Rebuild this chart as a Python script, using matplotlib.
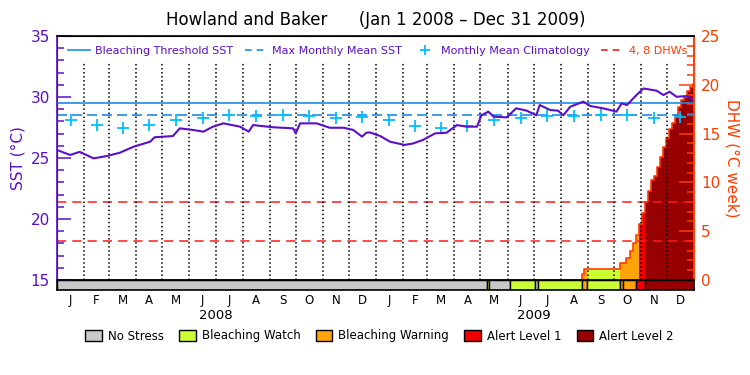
import numpy as np
import matplotlib.pyplot as plt
from matplotlib.patches import Patch
from matplotlib.lines import Line2D

PURPLE = '#5a0fc8'
ORANGE_RED = '#ff3c00'
BLUE = '#1e8ce6'
CYAN = '#00bfff'
RED = '#ff1a1a'
STRESS_COLORS = ['#c8c8c8', '#ccff33', '#ffa50a', '#f00000', '#960000']
STRESS_NAMES = ['No Stress', 'Bleaching Watch', 'Bleaching Warning', 'Alert Level 1', 'Alert Level 2']

# x = days since Jan 1 2008
sst_day = [0, 15, 26, 42, 57, 72, 88, 107, 112, 133, 141, 156, 168, 179, 191, 210, 220, 225,
           248, 271, 274, 279, 298, 313, 329, 340, 350, 355, 359, 371, 382, 399, 409, 420,
           434, 447, 459, 470, 482, 487, 495, 501, 516, 527, 539, 550, 554, 566, 575, 581,
           589, 604, 612, 627, 642, 648, 654, 665, 673, 688, 696, 703, 711, 723, 730]
sst = [25.66, 25.25, 25.5, 24.97, 25.16, 25.43, 25.93, 26.34, 26.7, 26.8, 27.43, 27.3, 27.16,
       27.57, 27.84, 27.57, 27.16, 27.7, 27.52, 27.43, 27.02, 27.84, 27.84, 27.48, 27.48, 27.3,
       26.75, 27.07, 27.1, 26.8, 26.34, 26.07, 26.2, 26.48, 27.02, 27.07, 27.7, 27.57, 27.57,
       28.5, 28.8, 28.39, 28.33, 29.07, 28.88, 28.5, 29.34, 28.93, 28.88, 28.5, 29.2, 29.62,
       29.26, 29.07, 28.8, 29.48, 29.34, 30.16, 30.7, 30.52, 30.16, 30.43, 30.02, 30.08, 29.75]

clim = [28.1, 27.7, 27.5, 27.7, 28.1, 28.3, 28.5, 28.45, 28.5, 28.45, 28.3, 28.35,
        28.1, 27.65, 27.5, 27.65, 28.1, 28.25, 28.45, 28.45, 28.5, 28.5, 28.3, 28.35]
threshold = 29.5
mmm = 28.5
dhw_lines = [4, 8]

dhw_day = [0, 602, 604.5, 608, 646, 653, 657.5, 661, 664.5, 667.5, 671.5, 675, 678.5, 682,
           685.5, 689, 692.5, 696, 699, 702.5, 706, 709.5, 713, 716.5, 720, 723, 727, 729.5, 731]
dhw = [0, 0.58, 1.16, 1.16, 1.7, 2.3, 3.0, 3.75, 4.6, 5.7, 6.9, 8.0, 9.1, 10.2, 10.7, 11.6,
       12.6, 13.6, 14.6, 15.5, 16.1, 16.9, 17.7, 18.4, 18.8, 19.4, 19.8, 20.1, 20.1]

stress_start = [0, 493, 496, 520, 549, 552, 602, 608, 646, 650, 665, 675]
stress_level = [0, 1, 0, 1, 0, 1, 2, 1, 2, 2, 3, 4]

months = np.arange('2008-01', '2010-02', dtype='datetime64[M]')
month_start = (months.astype('datetime64[D]') - np.datetime64('2008-01-01')).astype(int)
month_mid = (month_start[:-1] + month_start[1:]) / 2
month_letters = ['J', 'F', 'M', 'A', 'M', 'J', 'J', 'A', 'S', 'O', 'N', 'D'] * 2

fig = plt.figure(figsize=(7.5, 3.75), dpi=100)
ax = fig.add_axes([0.076, 0.2533, 0.8493, 0.6507])
axb = fig.add_axes([0.076, 0.2267, 0.8493, 0.0267])
ax2 = ax.twinx()
ax.set_zorder(ax2.get_zorder() + 1)
ax.patch.set_visible(False)

ax.set_xlim(0, 731)
ax.set_ylim(15, 35)
ax2.set_ylim(0, 25)

# DHW area coloured by stress level
def level_at(d):
    i = np.searchsorted(stress_start, d, side='right') - 1
    return stress_level[i]

for i in range(len(dhw_day) - 1):
    if dhw[i] > 0:
        ax2.fill_between([dhw_day[i], dhw_day[i + 1]], 0, dhw[i],
                         color=STRESS_COLORS[level_at(dhw_day[i])], lw=0)
ax2.step(dhw_day, dhw, where='post', color=ORANGE_RED, lw=1.2)
ax2.plot([731, 731], [0, dhw[-1]], color=ORANGE_RED, lw=1.2)

for v in dhw_lines:
    ax2.axhline(v, color=RED, lw=1.1, dashes=(6, 4))

ax.axhline(threshold, color=BLUE, lw=1.2)
ax.axhline(mmm, color=BLUE, lw=1.2, dashes=(6, 3))
ax.vlines(month_start[1:-1], 15, 32.8, colors='black', linestyles=':', lw=1.1)
ax.plot(month_mid, clim, ls='none', marker='+', ms=9, mew=1.3, color=CYAN)
ax.plot(sst_day, sst, color=PURPLE, lw=1.5)

# stress bar
for i in range(len(stress_start)):
    end = stress_start[i + 1] if i + 1 < len(stress_start) else 731
    axb.bar(stress_start[i], 1, width=end - stress_start[i], align='edge',
            color=STRESS_COLORS[stress_level[i]], edgecolor='black', lw=1)
axb.set_xlim(0, 731)
axb.set_ylim(0, 1)
axb.set_yticks([])
axb.set_xticks(month_mid, month_letters, fontsize=8.5)
axb.tick_params(axis='x', length=0, pad=3)
for s in axb.spines.values():
    s.set_linewidth(1.2)
for yr, x in zip(['2008', '2009'], [month_start[6], month_start[18]]):
    axb.text(x, -2.5, yr, ha='center', va='center', fontsize=9.5, transform=axb.transData)

# axes styling
ax.set_xticks([])
ax.set_yticks([15, 20, 25, 30, 35])
ax.set_yticks(np.arange(15, 36, 1), minor=True)
ax.tick_params(axis='y', which='both', direction='in', color=PURPLE, labelcolor=PURPLE,
               labelsize=11, pad=5)
ax.tick_params(axis='y', which='major', length=10, width=1.1)
ax.tick_params(axis='y', which='minor', length=5, width=1.1)
ax.set_ylabel('SST (°C)', color=PURPLE, fontsize=11, labelpad=4)
ax.spines['left'].set_color(PURPLE)
ax.spines['right'].set_color(ORANGE_RED)
ax.spines['bottom'].set_color('black')
for s in ax.spines.values():
    s.set_linewidth(1.2)

ax2.set_yticks([0, 5, 10, 15, 20, 25])
ax2.set_yticks(np.arange(0, 26, 1), minor=True)
ax2.tick_params(axis='y', which='both', direction='in', color=ORANGE_RED,
                labelcolor=ORANGE_RED, labelsize=11, pad=5)
ax2.tick_params(axis='y', which='major', length=11, width=1.1)
ax2.tick_params(axis='y', which='minor', length=5, width=1.1)
ax2.set_ylabel('DHW (°C week)', color=ORANGE_RED, fontsize=11, rotation=270, labelpad=14)
ax2.spines['right'].set_color(ORANGE_RED)
ax2.spines['right'].set_linewidth(1.2)

# top legend
handles = [Line2D([], [], color=BLUE, lw=1.2),
           Line2D([], [], color=BLUE, lw=1.2, dashes=(4, 3)),
           Line2D([], [], ls='none', marker='+', ms=7, mew=1.3, color=CYAN),
           Line2D([], [], color=RED, lw=1.2, dashes=(4, 3))]
labels = ['Bleaching Threshold SST', 'Max Monthly Mean SST', 'Monthly Mean Climatology', '4, 8 DHWs']
ax.legend(handles, labels, ncol=4, loc='center', bbox_to_anchor=(0.503, 0.9385),
          frameon=False, fontsize=8, handlelength=2, handletextpad=0.5, columnspacing=1.0,
          labelcolor=[PURPLE, PURPLE, PURPLE, ORANGE_RED])

# bottom legend
patches = [Patch(facecolor=c, edgecolor='black', lw=1) for c in STRESS_COLORS]
fig.legend(patches, STRESS_NAMES, ncol=5, loc='center', bbox_to_anchor=(0.506, 0.104),
           frameon=False, fontsize=8.5, handlelength=1.4, handleheight=1.1,
           handletextpad=0.5, columnspacing=1.3)

fig.text(0.501, 1 - 20 / 375, 'Howland and Baker      (Jan 1 2008 – Dec 31 2009)',
         ha='center', va='center', fontsize=12)

fig.savefig('out.png', dpi=100)
